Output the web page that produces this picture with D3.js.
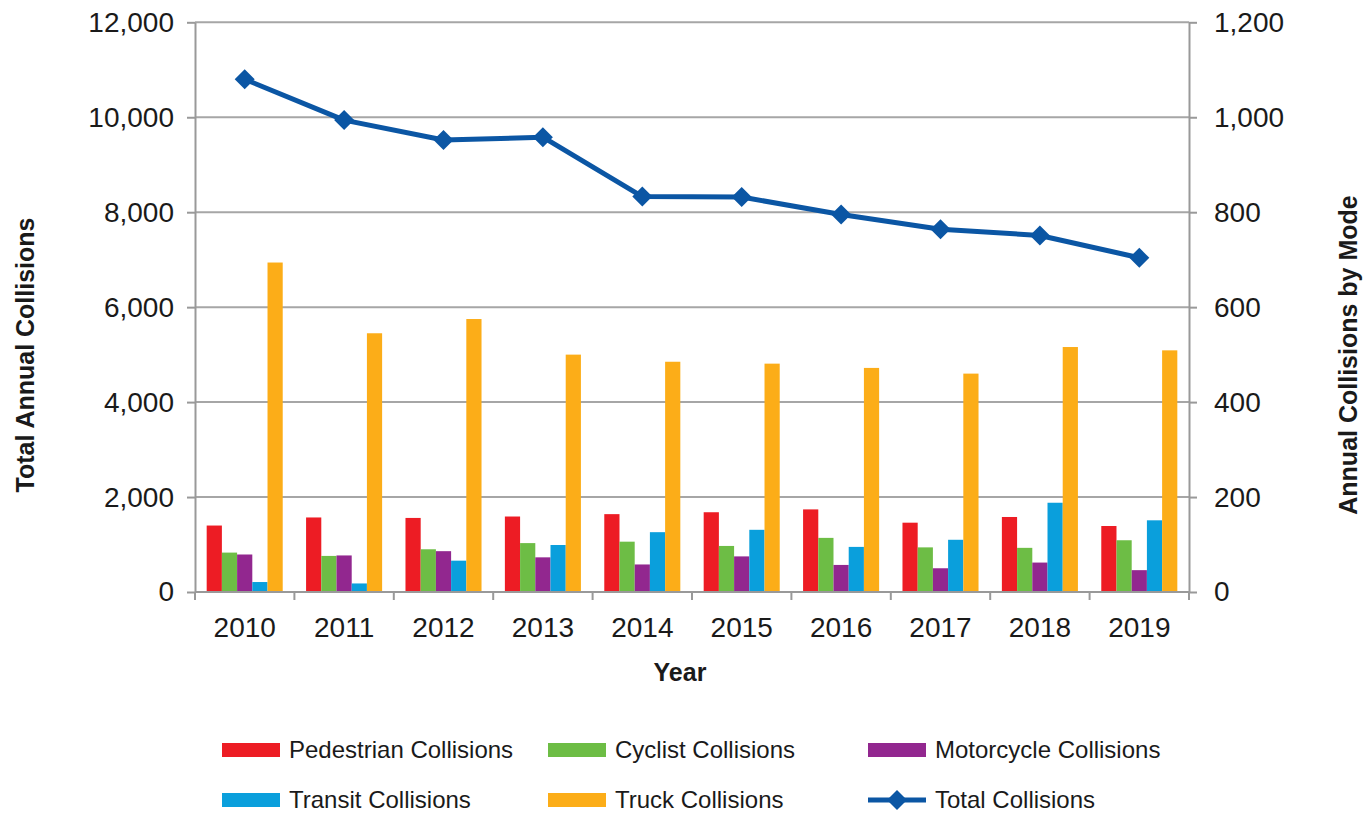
<!DOCTYPE html>
<meta charset="utf-8">
<style>
  body { margin: 0; background: #fff; }
  svg { font-family: "Liberation Sans", Arial, sans-serif; }
</style>
<svg width="1370" height="814"></svg>
<script src="https://cdn.jsdelivr.net/npm/d3@7"></script>
<script>

var years = ["2010", "2011", "2012", "2013", "2014", "2015", "2016", "2017", "2018", "2019"];
var pedestrian = [140, 157, 156, 159, 164, 168, 174, 146, 158, 139];
var cyclist    = [83, 76, 90, 103, 106, 97, 114, 94, 93, 109];
var motorcycle = [79, 77, 86, 73, 58, 75, 57, 50, 62, 46];
var transit    = [21, 18, 66, 99, 126, 131, 95, 110, 188, 151];
var truck      = [694, 545, 575, 500, 485, 481, 472, 460, 516, 509];
var total      = [10800, 9940, 9520, 9580, 8330, 8320, 7950, 7640, 7510, 7040];
var leftTicks  = [0, 2000, 4000, 6000, 8000, 10000, 12000];
var rightTicks = [0, 200, 400, 600, 800, 1000, 1200];

var modes = ["Pedestrian Collisions", "Cyclist Collisions", "Motorcycle Collisions", "Transit Collisions", "Truck Collisions"];
var modeValues = [pedestrian, cyclist, motorcycle, transit, truck];
var colors = ["#ed1c24", "#6dbd45", "#92278f", "#0a9fdc", "#fcad18"];
var lineColor = "#0b56a4";

var svg = d3.select("svg");

var x = d3.scaleBand()
    .domain(years)
    .range([195, 1189])
    .paddingInner(0.235)
    .paddingOuter(0.1175);

var xs = d3.scaleBand()
    .domain(modes)
    .range([0, x.bandwidth()]);

var yL = d3.scaleLinear().domain([0, 12000]).range([592, 22.3]);
var yR = d3.scaleLinear().domain([0, 1200]).range([592, 22.3]);

var color = d3.scaleOrdinal().domain(modes).range(colors);

// gridlines
svg.append("g")
  .selectAll("line")
  .data(leftTicks.slice(1))
  .enter().append("line")
    .attr("x1", 195)
    .attr("x2", 1189)
    .attr("y1", yL)
    .attr("y2", yL)
    .attr("stroke", "#a6a6a6")
    .attr("stroke-width", 2);

// bars
var rows = [];
years.forEach(function(yr, i) {
  modes.forEach(function(m, j) {
    rows.push({ year: yr, mode: m, value: modeValues[j][i] });
  });
});

svg.append("g")
  .selectAll("rect")
  .data(rows)
  .enter().append("rect")
    .attr("x", function(d) { return x(d.year) + xs(d.mode); })
    .attr("width", xs.bandwidth())
    .attr("y", function(d) { return yR(d.value); })
    .attr("height", function(d) { return yR(0) - yR(d.value); })
    .attr("fill", function(d) { return color(d.mode); });

// axes
function styleAxis(g) {
  g.select(".domain").attr("stroke", "#999").attr("stroke-width", 2);
  g.selectAll(".tick line").attr("stroke", "#999").attr("stroke-width", 2);
  g.selectAll(".tick text").attr("fill", "#1a1a1a").attr("font-size", 28);
}

svg.append("g")
    .attr("transform", "translate(195,0)")
    .call(d3.axisLeft(yL).tickValues(leftTicks).tickFormat(d3.format(",")).tickSizeInner(8).tickSizeOuter(0).tickPadding(13))
    .call(styleAxis)
    .attr("font-family", null);

svg.append("g")
    .attr("transform", "translate(1189,0)")
    .call(d3.axisRight(yR).tickValues(rightTicks).tickFormat(d3.format(",")).tickSizeInner(8).tickSizeOuter(0).tickPadding(17))
    .call(styleAxis)
    .attr("font-family", null);

var xAxis = svg.append("g")
    .attr("transform", "translate(0,592)")
    .call(d3.axisBottom(x).tickSize(0).tickPadding(25))
    .call(styleAxis)
    .attr("font-family", null);
xAxis.select(".domain").attr("d", "M195,0H1189");

// category boundary ticks
var bounds = years.map(function(d) { return x(d) - (x.step() - x.bandwidth()) / 2; });
bounds.push(x.range()[1]);
xAxis.append("g")
  .selectAll("line")
  .data(bounds)
  .enter().append("line")
    .attr("x1", function(d) { return d; })
    .attr("x2", function(d) { return d; })
    .attr("y1", 0)
    .attr("y2", 8)
    .attr("stroke", "#999")
    .attr("stroke-width", 2);

// total line
var line = d3.line()
    .x(function(d, i) { return x(years[i]) + x.bandwidth() / 2; })
    .y(function(d) { return yL(d); });

svg.append("path")
    .datum(total)
    .attr("d", line)
    .attr("fill", "none")
    .attr("stroke", lineColor)
    .attr("stroke-width", 5)
    .attr("stroke-linejoin", "round");

var diamond = d3.symbol().type(d3.symbolSquare).size(200);

svg.append("g")
  .selectAll("path")
  .data(total)
  .enter().append("path")
    .attr("d", diamond)
    .attr("fill", lineColor)
    .attr("transform", function(d, i) {
      return "translate(" + (x(years[i]) + x.bandwidth() / 2) + "," + yL(d) + ")rotate(45)";
    });

// axis titles
svg.append("text")
    .attr("transform", "translate(34,355)rotate(-90)")
    .attr("text-anchor", "middle")
    .attr("font-size", 25)
    .attr("font-weight", "bold")
    .attr("fill", "#1a1a1a")
    .text("Total Annual Collisions");

svg.append("text")
    .attr("transform", "translate(1357,355)rotate(-90)")
    .attr("text-anchor", "middle")
    .attr("font-size", 25)
    .attr("font-weight", "bold")
    .attr("fill", "#1a1a1a")
    .text("Annual Collisions by Mode");

svg.append("text")
    .attr("x", 680)
    .attr("y", 681)
    .attr("text-anchor", "middle")
    .attr("font-size", 25)
    .attr("font-weight", "bold")
    .attr("fill", "#1a1a1a")
    .text("Year");

// legend
var legendItems = modes.concat(["Total Collisions"]);
var legendCols = [222, 548, 868];
var legendRows = [750, 800];

var legend = svg.append("g")
  .selectAll("g")
  .data(legendItems)
  .enter().append("g")
    .attr("transform", function(d, i) {
      return "translate(" + legendCols[i % 3] + "," + legendRows[Math.floor(i / 3)] + ")";
    });

legend.filter(function(d, i) { return i < 5; })
  .append("rect")
    .attr("y", -7)
    .attr("width", 58)
    .attr("height", 14)
    .attr("fill", function(d) { return color(d); });

var lastItem = legend.filter(function(d, i) { return i === 5; });
lastItem.append("line")
    .attr("x1", 0)
    .attr("x2", 58)
    .attr("stroke", lineColor)
    .attr("stroke-width", 5);
lastItem.append("path")
    .attr("d", diamond)
    .attr("fill", lineColor)
    .attr("transform", "translate(29,0)rotate(45)");

legend.append("text")
    .attr("x", 67)
    .attr("dy", "0.35em")
    .attr("font-size", 24)
    .attr("fill", "#1a1a1a")
    .text(function(d) { return d; });

</script>
